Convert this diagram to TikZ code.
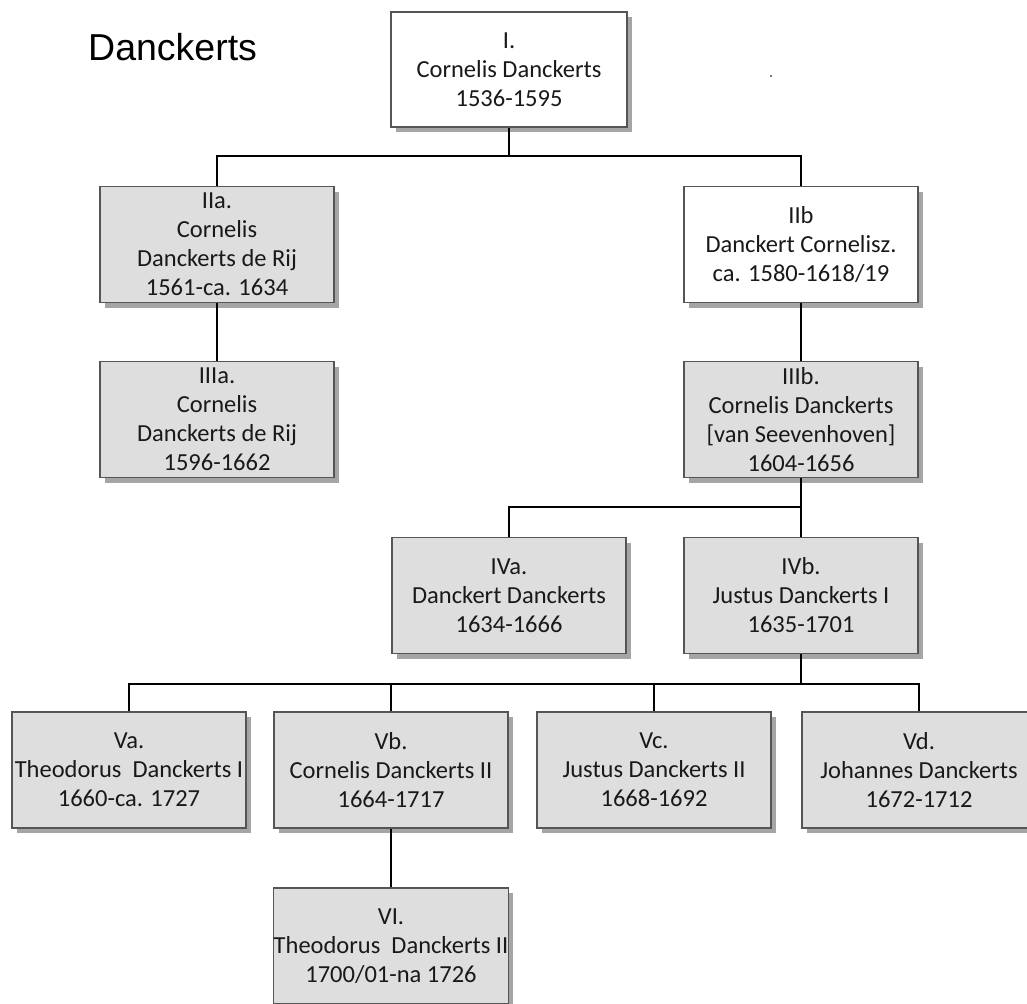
\documentclass[tikz,border=0pt]{standalone}
\usepackage{fontspec}
\setmainfont{Carlito}
\newfontfamily\titlefont{Liberation Sans}
\usetikzlibrary{shadows}
\definecolor{boxgray}{RGB}{222,222,222}
\definecolor{boxline}{RGB}{85,85,85}
\definecolor{txt}{RGB}{25,25,25}
\definecolor{shad}{RGB}{165,165,165}
\begin{document}
\begin{tikzpicture}[x=1pt,y=-1pt,
  person/.style={draw=boxline, line width=1.1pt, fill=boxgray, text=txt,
    minimum width=234pt, minimum height=116pt, inner sep=0pt, align=center,
    font=\fontsize{24.5}{29}\selectfont,
    drop shadow={shadow xshift=5pt, shadow yshift=-5pt, fill=shad, opacity=1}},
  whitebox/.style={person, fill=white},
  conn/.style={draw=black, line width=1.2pt}]
\useasboundingbox (0,0) rectangle (1027,1003);
\fill[white] (0,0) rectangle (1027,1003);

\node[anchor=base west, font=\titlefont\fontsize{37.5}{40}\selectfont, text=black, inner sep=0pt] (title) at (88,61) {Danckerts};
\fill[black!70] (771,76) circle (1.2);

\node[whitebox, minimum width=236pt, minimum height=115pt] (nI) at (509,69.5) {I.\\Cornelis Danckerts\\1536-1595};
\node[person] (nIIa) at (217,244.5) {IIa.\\Cornelis\\Danckerts de Rij\\1561-ca. 1634};
\node[whitebox] (nIIb) at (801,244.5) {IIb\\Danckert Cornelisz.\\ca. 1580-1618/19};
\node[person] (nIIIa) at (217,419.5) {IIIa.\\Cornelis\\Danckerts de Rij\\1596-1662};
\node[person] (nIIIb) at (801,419.5) {IIIb.\\Cornelis Danckerts\\{[van Seevenhoven]}\\1604-1656};
\node[person] (nIVa) at (509,595.5) {IVa.\\Danckert Danckerts\\1634-1666};
\node[person] (nIVb) at (801,595.5) {IVb.\\Justus Danckerts I\\1635-1701};
\node[person] (nVa) at (129,770) {Va.\\Theodorus\ \ Danckerts I\\1660-ca. 1727};
\node[person] (nVb) at (391,770) {Vb.\\Cornelis Danckerts II\\1664-1717};
\node[person] (nVc) at (654,770) {Vc.\\Justus Danckerts II\\1668-1692};
\node[person] (nVd) at (919,770) {Vd.\\Johannes Danckerts\\1672-1712};
\node[person] (nVI) at (391,946) {VI.\\Theodorus\ \ Danckerts II\\1700/01-na 1726};

\coordinate (j1) at (509,156);
\coordinate (j2) at (801,507);
\coordinate (j3) at (801,684);

\draw[conn] (nI.south) -- (j1) -| (nIIa.north);
\draw[conn] (j1) -| (nIIb.north);
\draw[conn] (nIIa.south) -- (nIIIa.north);
\draw[conn] (nIIb.south) -- (nIIIb.north);
\draw[conn] (nIIIb.south) -- (j2) -- (nIVb.north);
\draw[conn] (j2) -| (nIVa.north);
\draw[conn] (nIVb.south) -- (j3);
\draw[conn] (j3) -| (nVa.north);
\draw[conn] (j3) -| (nVb.north);
\draw[conn] (j3) -| (nVc.north);
\draw[conn] (j3) -| (nVd.north);
\draw[conn] (nVb.south) -- (nVI.north);
\end{tikzpicture}
\end{document}
